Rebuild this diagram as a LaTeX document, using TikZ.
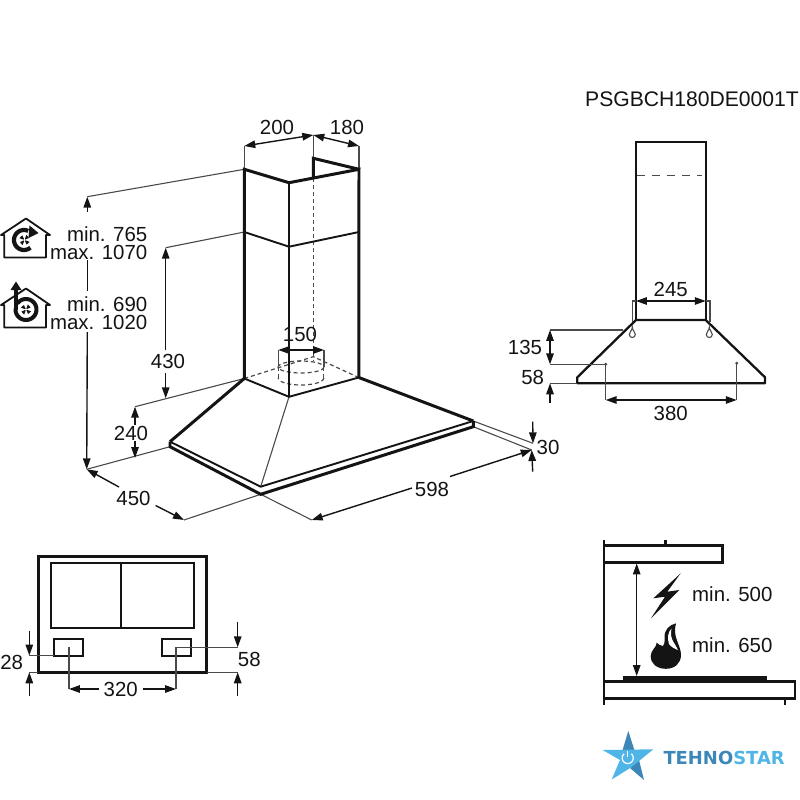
\documentclass[tikz,border=0pt]{standalone}
\usepackage{fontspec}
\setmainfont{Liberation Sans}
\newfontfamily\logofont{DejaVu Sans}
\usetikzlibrary{arrows.meta}
\definecolor{ink}{HTML}{141414}
\definecolor{wit}{HTML}{4A4A4A}
\definecolor{lblue}{HTML}{4FB4E6}
\definecolor{dblue}{HTML}{3D87B8}
\tikzset{
  lab/.style={inner sep=0pt,text=ink,font=\fontsize{20.5}{18}\selectfont},
  heavy/.style={line width=3pt,draw=ink,line join=miter},
  medium/.style={line width=1.9pt,draw=ink},
  witness/.style={line width=1.1pt,draw=wit},
  hidden/.style={line width=1.2pt,draw=wit,dash pattern=on 4pt off 3pt},
  dim/.style={line width=1.4pt,draw=ink,{Triangle[length=11pt,width=7.5pt]}-{Triangle[length=11pt,width=7.5pt]}},
  dimend/.style={line width=1.4pt,draw=ink,-{Triangle[length=11pt,width=7.5pt]}},
  plain/.style={line width=1.4pt,draw=ink},
}
\newcommand{\fanmark}[2]{%
  \foreach \a in {20,110,200,290}{%
    \fill[ink] (#1,#2) -- ({#1+5.5*cos(\a)},{#2+5.5*sin(\a)}) -- ({#1+5*cos(\a+45)},{#2+5*sin(\a+45)}) -- cycle;}
  \fill[white] (#1,#2) circle (1.2);}
\newcommand{\housemark}[2]{%
  \draw[line width=1.8pt,draw=ink,line join=round] (#1-25,#2+6.5) -- (#1,#2-10) -- (#1+24,#2+6.5) -- (#1+20,#2+6.5) -- (#1+20,#2+29) -- (#1-21.7,#2+29) -- (#1-21.7,#2+6.5) -- cycle;}
\begin{document}
\begin{tikzpicture}[x=1bp,y=-1bp]
\useasboundingbox (0,0) rectangle (800,800);
\fill[white] (0,0) rectangle (800,800);

% ---------- main perspective view: named points
\coordinate (ctl) at (244.3,169.3);
\coordinate (ctm) at (289,182.7);
\coordinate (ctr) at (359,169.3);
\coordinate (ctb) at (313.3,158.3);
\coordinate (ctc) at (313.3,178.3);
\coordinate (cml) at (244.3,232);
\coordinate (cmm) at (289,246.7);
\coordinate (cmr) at (359,232);
\coordinate (cbl) at (244.3,378.5);
\coordinate (cbm) at (289,396.8);
\coordinate (cbr) at (358.8,377.5);
\coordinate (cbb) at (313.3,356.7);
\coordinate (hl) at (170,441.7);
\coordinate (hla) at (170,446.7);
\coordinate (hf) at (260.7,486.7);
\coordinate (hfa) at (260.7,494.3);
\coordinate (hr) at (473.3,421);
\coordinate (hra) at (473.3,426.7);

% witness lines
\coordinate (w200a) at (244.3,146);
\coordinate (w200b) at (313.3,135);
\coordinate (w180b) at (359,146);
\draw[witness] (ctl) -- (w200a);
\draw[witness] (ctb) -- (w200b);
\draw[witness] (ctr) -- (w180b);
\coordinate (wa) at (87.3,196.7);
\coordinate (wb) at (165.7,247.7);
\coordinate (wc) at (135,406.7);
\coordinate (wd) at (86.7,469.3);
\coordinate (we) at (184,520);
\coordinate (wf) at (311.7,520);
\coordinate (wg) at (531.7,450);
\coordinate (wh) at (533,443.3);
\draw[witness] (ctl) -- (wa);
\draw[witness] (cml) -- (wb);
\draw[witness] (cbl) -- (wc);
\draw[witness] (hla) -- (wd);
\draw[witness] (hfa) -- (we);
\draw[witness] (hfa) -- (wf);
\draw[witness] (hra) -- (wg);
\draw[witness] (hr) -- (wh);

% hidden duct
\draw[hidden] (ctc) -- (313.3,361);
\draw[hidden] (cbl) -- (cbb) -- (cbr);
\draw[hidden] plot[domain=0:360,samples=49] ({301+22.8*cos(\x)},{367+6*sin(\x)});
\draw[hidden] plot[domain=0:180,samples=25] ({301+22.8*cos(\x)},{378+7*sin(\x)});
\draw[hidden] (278.2,367) -- (278.2,378);
\draw[hidden] (323.8,367) -- (323.8,378);

% chimney
\draw[witness] (cbm) -- (hf);
\draw[line width=2.4pt,draw=ink] (ctm) -- (cbm);
\draw[heavy] (cbl) -- (ctl) -- (ctm) -- (ctr) -- (cbr);
\draw[heavy] (ctc) -- (ctb) -- (ctr);
\draw[medium] (cml) -- (cmm) -- (cmr);
\draw[medium] (cbl) -- (cbm) -- (cbr);

% hood
\draw[heavy] (cbl) -- (hl);
\draw[heavy] (cbr) -- (hr);
\draw[medium] (hl) -- (hf) -- (hr);
\draw[heavy] (hl) -- (hla) -- (hfa) -- (hra) -- (hr);

% 150 duct bracket
\coordinate (d150a) at (278.3,350);
\coordinate (d150b) at (324,350);
\draw[witness] (d150a) -- (278.3,367);
\draw[witness] (d150b) -- (324,367);
\draw[dim] (d150a) -- (d150b);
\node[lab] (t150) at (300,334) {150};

% dimensions main
\draw[dim] (w200a) -- (w200b);
\draw[dim] (w200b) -- (w180b);
\node[lab] (t200) at (277,127) {200};
\node[lab] (t180) at (347,127) {180};

\coordinate (g1) at (87.3,212);
\coordinate (g2) at (87.3,260);
\coordinate (g3) at (87.3,291);
\coordinate (g4) at (87.3,332);
\draw[plain,-{Triangle[length=11pt,width=7.5pt]}] (g1) -- (wa);
\draw[plain] (g2) -- (g3);
\draw[plain,-{Triangle[length=11pt,width=7.5pt]}] (g4) -- (wd);

\coordinate (g5) at (165.7,350);
\coordinate (g6) at (165.7,373);
\coordinate (g7) at (165.7,398.3);
\draw[dimend] (g5) -- (wb);
\draw[dimend] (g6) -- (g7);
\node[lab] (t430) at (168,361.7) {430};

\coordinate (g8) at (135,425);
\coordinate (g9) at (135,441);
\coordinate (g10) at (135,458);
\draw[dimend] (g8) -- (wc);
\draw[dimend] (g9) -- (g10);
\node[lab] (t240) at (131,433) {240};

\coordinate (g11) at (119,487);
\coordinate (g12) at (155.6,505.5);
\draw[dimend] (g11) -- (wd);
\draw[dimend] (g12) -- (we);
\node[lab] (t450) at (133.5,498.5) {450};

\coordinate (g13) at (412,488);
\coordinate (g14) at (450,476.5);
\draw[dimend] (g13) -- (wf);
\draw[dimend] (g14) -- (wg);
\node[lab] (t598) at (432,489) {598};

\coordinate (g15) at (532.7,421.7);
\coordinate (g16) at (532.7,471.7);
\draw[dimend] (g15) -- (wh);
\draw[dimend] (g16) -- (wg);
\node[lab] (t30) at (548,447.3) {30};

% installation labels and icons
\node[lab,align=right,anchor=east] (tup) at (147.5,243) {min. 765\\max. 1070};
\node[lab,align=right,anchor=east] (tdn) at (147.5,313) {min. 690\\max. 1020};

\housemark{26}{228.5}
\draw[line width=4.2pt,draw=ink] plot[domain=50:295,samples=30] ({24+10*cos(\x)},{240+10*sin(\x)});
\fill[ink] (29.5,225.5) -- (38.5,233) -- (28.5,238) -- cycle;
\fanmark{24.5}{240}

\housemark{26}{298.5}
\draw[line width=4pt,draw=ink,line cap=round] (16,288) -- (16,309) plot[domain=180:-140,samples=40] ({26+10.5*cos(\x)},{309.5+10.5*sin(\x)});
\fill[ink] (16,281.5) -- (21.5,290) -- (10.5,290) -- cycle;
\fanmark{26}{309.5}

% code
\node[lab,font=\fontsize{21.2}{21}\selectfont] (tcode) at (692,99) {PSGBCH180DE0001T};

% ---------- side view
\coordinate (sl) at (636,320);
\coordinate (sr) at (705.7,320);
\draw[line width=1.9pt,draw=ink] (636,142.3) rectangle (705.7,320);
\draw[witness,dash pattern=on 8pt off 7pt] (637,175.7) -- (702,175.7);
\draw[line width=2.3pt,draw=ink,line join=round] (sl) -- (577.3,377.3) -- (577.3,383.3) -- (765,383.3) -- (765,377.3) -- (sr) -- cycle;
\coordinate (w245a) at (632.3,301);
\coordinate (w245b) at (710,301);
\draw[witness] (636,301) -- (w245a) -- (632.3,321.7);
\draw[witness] (705.7,301) -- (w245b) -- (710,321.7);
\draw[dim] (636,301) -- (705.7,301);
\node[lab] (t245) at (670.7,289) {245};
\foreach \kx in {632.3,709.3}{
  \draw[witness] (\kx-3,334.5) .. controls (\kx-3,331) and (\kx,331) .. (\kx,327) .. controls (\kx,331) and (\kx+3,331) .. (\kx+3,334.5) .. controls (\kx+3,338.5) and (\kx-3,338.5) .. (\kx-3,334.5) -- cycle;
}
\coordinate (w135a) at (550,330);
\coordinate (w135b) at (550,364.3);
\coordinate (w58a) at (550,383.3);
\coordinate (p380a) at (605.7,364.3);
\coordinate (p380b) at (736.7,363.3);
\coordinate (d380a) at (605.7,400);
\coordinate (d380b) at (736.7,400);
\draw[witness] (w135a) -- (623.3,330);
\draw[witness] (w135b) -- (p380a) -- (d380a);
\draw[witness] (w58a) -- (577.3,383.3);
\draw[witness] (p380b) -- (d380b);
\fill[wit] (p380a) circle (1.6);
\fill[wit] (p380b) circle (1.6);
\draw[dim] (w135a) -- (w135b);
\draw[dimend] (550,403.3) -- (w58a);
\draw[dim] (d380a) -- (d380b);
\node[lab] (t135) at (525,347.3) {135};
\node[lab] (t58s) at (532.7,377.3) {58};
\node[lab] (t380) at (670.7,413.3) {380};

% ---------- bottom view
\draw[line width=3pt,draw=ink] (38.3,556.7) rectangle (206.7,672.3);
\draw[line width=1.9pt,draw=ink] (51,562.7) rectangle (194,627.7);
\draw[line width=1.9pt,draw=ink] (120.7,562.7) -- (120.7,627.7);
\draw[line width=1.9pt,draw=ink] (54.3,638.7) rectangle (83.3,655.7);
\draw[line width=1.9pt,draw=ink] (161.7,638.7) rectangle (190.7,655.7);
\coordinate (b28a) at (29.3,655.5);
\coordinate (b28b) at (29.3,672.3);
\coordinate (b58a) at (237.7,647.3);
\coordinate (b58b) at (237.7,672.3);
\coordinate (b320a) at (69,689);
\coordinate (b320b) at (176,689);
\draw[witness] (b28a) -- (54.3,655.5);
\draw[witness] (b28b) -- (38.3,672.3);
\draw[witness] (176,647.3) -- (b58a);
\draw[witness] (206.7,672.3) -- (b58b);
\draw[witness] (69,647.3) -- (b320a);
\draw[witness] (176,647.3) -- (b320b);
\draw[dimend] (29.3,630.7) -- (b28a);
\draw[dimend] (29.3,696) -- (b28b);
\draw[dimend] (237.7,622.3) -- (b58a);
\draw[dimend] (237.7,696) -- (b58b);
\draw[dimend] (99.3,689) -- (b320a);
\draw[dimend] (143.3,689) -- (b320b);
\node[lab] (t28) at (11.7,662.3) {28};
\node[lab] (t58b) at (249.3,659.3) {58};
\node[lab] (t320) at (120.7,689) {320};

% ---------- clearance view
\draw[line width=1.6pt,draw=ink] (604,540) -- (604,705);
\draw[line width=2.8pt,draw=ink] (604,545.7) rectangle (722.7,562.7);
\draw[line width=2.8pt,draw=ink] (665.3,540) -- (665.3,545.7);
\draw[line width=2.8pt,draw=ink] (604,681.7) rectangle (795,698.3);
\draw[line width=1.4pt,draw=ink] (785,698.3) -- (785,705);
\fill[ink] (623.3,676) rectangle (766.7,681.7);
\coordinate (ha) at (636.7,563.5);
\coordinate (hb) at (636.7,676);
\draw[dim] (ha) -- (hb);
\fill[ink] (680.7,573.3) -- (653.3,598.3) -- (665,596.7) -- (651,618.3) -- (679.3,590) -- (667.3,591.7) -- cycle;
\fill[ink] (676,623.3) .. controls (669,625) and (664,630) .. (664.5,638)
  .. controls (664.7,642) and (664.5,645) .. (663,646)
  .. controls (661,646) and (658.5,644.5) .. (656.7,642.7)
  .. controls (657,647) and (650.7,650) .. (650.7,656)
  .. controls (650.7,664) and (657,668.8) .. (666,668.8)
  .. controls (675,668.8) and (681,663) .. (681,655)
  .. controls (681,645) and (672,637) .. (676,623.3) -- cycle;
\fill[white] (671.5,628.5) .. controls (668,632) and (667,638) .. (669,644)
  .. controls (671,647) and (675,649) .. (678,650)
  .. controls (676,644) and (669,640) .. (671.5,628.5) -- cycle;
\node[lab,anchor=west] (t500) at (692,594.5) {min. 500};
\node[lab,anchor=west] (t650) at (692,645) {min. 650};

% ---------- logo
\fill[dblue] (628.3,731) -- (622,752) -- (635,752) -- cycle;
\fill[dblue] (630,768) -- (644,780) -- (639,760) -- cycle;
\fill[lblue] (602.7,750) -- (653.3,749.3) -- (631,767.5) -- (611.7,779.5) -- (620,760) -- cycle;
\draw[white,line width=1.2pt] plot[domain=-50:230,samples=25] ({627.7+5.5*cos(\x)},{758+5.5*sin(\x)});
\draw[white,line width=1.2pt] (627.7,751) -- (627.7,757);
\node[inner sep=0pt,anchor=west] (tlogo) at (663.3,758.3) {\logofont\bfseries\fontsize{18}{18}\selectfont\textcolor{dblue}{TEHNO}\textcolor{lblue}{STAR}};
\end{tikzpicture}
\end{document}
